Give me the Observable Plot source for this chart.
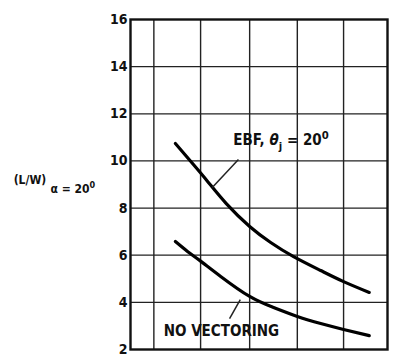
<!DOCTYPE html>
<html><head><meta charset="utf-8">
<script src="https://cdn.jsdelivr.net/npm/d3@7"></script>
<script src="https://cdn.jsdelivr.net/npm/@observablehq/plot@0.6"></script>
<style>body{margin:0;background:#fff}</style>
</head><body><div id="chart"></div>
<script>
// Axis / grid values
const yTicks = [2, 4, 6, 8, 10, 12, 14, 16];
const yGrid = [4, 6, 8, 10, 12, 14];
const xGrid = [0.5, 1.5, 2.55, 3.57, 4.56];
const xDomain = [0, 5.5];
const yDomain = [2, 16];

// Curve: EBF, theta_j = 20 deg
const ebfX = [0.96, 1.31, 1.65, 2.05, 2.55, 3.00, 3.49, 4.07, 4.56, 5.11];
const ebfY = [10.74, 9.93, 9.13, 8.19, 7.22, 6.54, 5.94, 5.35, 4.88, 4.42];
// Curve: no vectoring
const novX = [0.96, 1.22, 1.48, 1.93, 2.55, 3.06, 3.57, 4.07, 4.56, 5.11];
const novY = [6.58, 6.16, 5.78, 5.10, 4.25, 3.78, 3.40, 3.10, 2.85, 2.59];

// Curve labels and leader lines
const labelText = ["EBF, ~{θ}_{j} = 20^{0}", "NO VECTORING"];
const labelX = [2.2, 0.71];
const labelY = [10.87, 2.76];
const leaderX1 = [1.75, 2.12];
const leaderY1 = [8.87, 3.31];
const leaderX2 = [2.31, 2.35];
const leaderY2 = [10.06, 4.12];

// Y axis title
const yTitle = ["(L/W)", "α = 20^{0}"];
const yTitleX = [-2.5, -1.71];
const yTitleY = [9.17, 8.79];

const ebf = ebfX.map((x, i) => ({x, y: ebfY[i]}));
const nov = novX.map((x, i) => ({x, y: novY[i]}));
const labels = labelText.map((t, i) => ({t, x: labelX[i], y: labelY[i]}));
const leaders = leaderX1.map((x1, i) => ({x1, y1: leaderY1[i], x2: leaderX2[i], y2: leaderY2[i]}));
const titles = yTitle.map((t, i) => ({t, x: yTitleX[i], y: yTitleY[i]}));

const FONT = "'Liberation Sans Narrow', 'DejaVu Sans Condensed', sans-serif";

const chart = Plot.plot({
  width: 394, height: 361,
  marginLeft: 130, marginRight: 7, marginTop: 19, marginBottom: 12,
  style: {fontFamily: FONT, fontSize: "14px", fontWeight: "bold", color: "#111", background: "#fff"},
  x: {domain: xDomain, axis: null},
  y: {domain: yDomain, ticks: yTicks, tickSize: 0, tickPadding: 3, label: null, tickFormat: d => String(d)},
  marks: [
    Plot.ruleY(yGrid, {stroke: "#222", strokeWidth: 1.2}),
    Plot.ruleX(xGrid, {stroke: "#222", strokeWidth: 1.4}),
    Plot.frame({stroke: "#111", strokeWidth: 2.4}),
    Plot.line(ebf, {x: "x", y: "y", curve: "natural", stroke: "#000", strokeWidth: 3.2}),
    Plot.line(nov, {x: "x", y: "y", curve: "natural", stroke: "#000", strokeWidth: 3.2}),
    Plot.link(leaders, {x1: "x1", y1: "y1", x2: "x2", y2: "y2", stroke: "#222", strokeWidth: 1.5}),
    Plot.text(labels, {x: "x", y: "y", text: "t", textAnchor: "start", fontSize: 15, fontFamily: FONT, fontWeight: "bold", fill: "#111"}),
    Plot.text(titles, {x: "x", y: "y", text: "t", textAnchor: "start", fontSize: 12, fontFamily: FONT, fontWeight: "bold", fill: "#111"})
  ]
});

// Rich text: ^{..} superscript, _{..} subscript, ~{..} italic
const NS = "http://www.w3.org/2000/svg";
chart.querySelectorAll("text").forEach(el => {
  const s = el.textContent;
  if (!/[_^~]\{/.test(s)) return;
  const fs = parseFloat(el.getAttribute("font-size") || el.parentNode.getAttribute("font-size") || 14);
  el.textContent = "";
  const re = /([_^~])\{([^}]*)\}|([^_^~]+)/g;
  let m, shift = 0;
  while ((m = re.exec(s))) {
    const t = document.createElementNS(NS, "tspan");
    if (m[1] === "^" || m[1] === "_") {
      const d = m[1] === "^" ? -0.4 * fs : 0.3 * fs;
      t.setAttribute("dy", d - shift);
      shift = d;
      t.setAttribute("font-size", 0.75 * fs);
      t.textContent = m[2];
    } else {
      if (shift) { t.setAttribute("dy", -shift); shift = 0; }
      if (m[1] === "~") t.setAttribute("font-style", "italic");
      t.textContent = m[1] ? m[2] : m[3];
    }
    el.appendChild(t);
  }
});

document.getElementById("chart").appendChild(chart);
</script>
</body></html>
